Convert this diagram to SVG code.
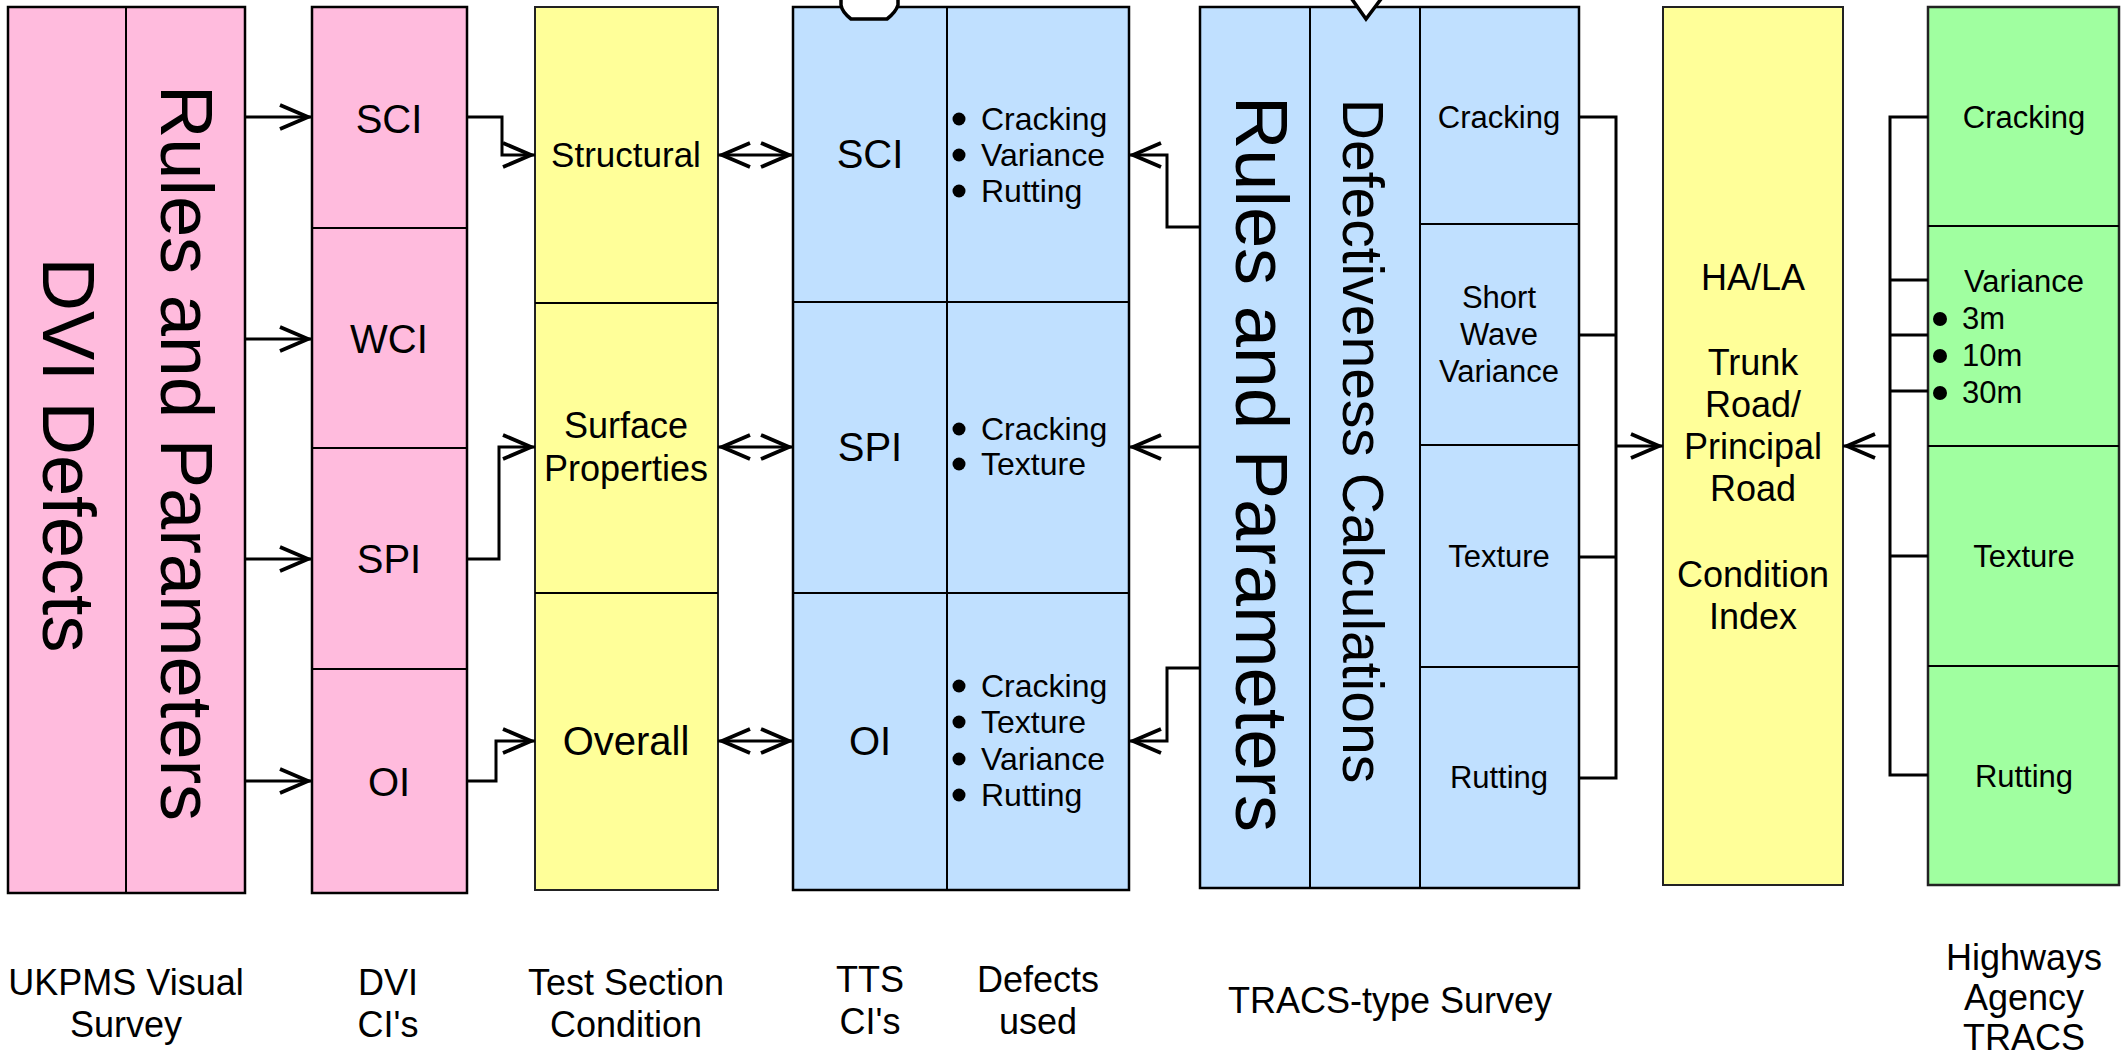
<svg xmlns="http://www.w3.org/2000/svg" width="2127" height="1057" viewBox="0 0 2127 1057">
<style>
text{font-family:"Liberation Sans",Arial,sans-serif;fill:#000}
.c{text-anchor:middle}
.pink{fill:#FFBBDD;stroke:#000;stroke-width:2.5}
.yel{fill:#FFFF99;stroke:#222;stroke-width:2}
.blue{fill:#C0E0FF;stroke:#000;stroke-width:2.5}
.green{fill:#A0FFA0;stroke:#222;stroke-width:2.5}
.div{stroke:#000;stroke-width:2;fill:none}
.conn path{fill:none;stroke:#000;stroke-width:3;stroke-linejoin:miter}
.arr{marker-end:url(#ah)}
.dbl{marker-start:url(#ah);marker-end:url(#ah)}
.f40{font-size:40px}
.f36{font-size:36px}
.f32{font-size:32px}
.f31{font-size:31px}
.big{font-size:74px}
</style>
<defs>
<marker id="ah" markerUnits="userSpaceOnUse" viewBox="-36 -15 38 30" refX="0" refY="0" markerWidth="38" markerHeight="30" orient="auto-start-reverse">
<path d="M-32,-12 L-4,0 L-32,12" fill="none" stroke="#000" stroke-width="3.8"/>
</marker>
</defs>
<rect width="2127" height="1057" fill="#fff"/>

<g id="ukpms">
<rect class="pink" x="8" y="7" width="237" height="886"/>
<line class="div" x1="126" y1="7" x2="126" y2="893"/>
<text class="c big" transform="translate(43,455) rotate(90)">DVI Defects</text>
<text class="c big" transform="translate(161,453) rotate(90)">Rules and Parameters</text>
</g>

<g id="dvi-ci">
<rect class="pink" x="312" y="7" width="155" height="886"/>
<path class="div" d="M312,228H467M312,448H467M312,669H467"/>
<text class="c f40" x="389" y="133">SCI</text>
<text class="c f40" x="389" y="353">WCI</text>
<text class="c f40" x="389" y="573">SPI</text>
<text class="c f40" x="389" y="796">OI</text>
</g>

<g id="test-section">
<rect class="yel" x="535" y="7" width="183" height="883"/>
<path class="div" d="M535,303H718M535,593H718"/>
<text class="c" style="font-size:35px" x="626" y="167">Structural</text>
<text class="c f36" x="626" y="438">Surface</text>
<text class="c f36" x="626" y="481">Properties</text>
<text class="c f40" x="626" y="755">Overall</text>
</g>

<g id="tts">
<rect class="blue" x="793" y="7" width="336" height="883"/>
<path class="div" d="M947,7V890M793,302H1129M793,593H1129"/>
<path d="M841,-10V5Q842,12 851,19H887Q896,12 898,5V-10Z" fill="#fff" stroke="#000" stroke-width="3.5" stroke-linejoin="round"/>
<text class="c f40" x="870" y="168">SCI</text>
<text class="c f40" x="870" y="461">SPI</text>
<text class="c f40" x="870" y="755">OI</text>
<g class="f32">
<circle cx="959" cy="119" r="6.5"/><text x="981" y="130">Cracking</text>
<circle cx="959" cy="155" r="6.5"/><text x="981" y="166">Variance</text>
<circle cx="959" cy="191" r="6.5"/><text x="981" y="202">Rutting</text>
<circle cx="959" cy="429" r="6.5"/><text x="981" y="440">Cracking</text>
<circle cx="959" cy="464" r="6.5"/><text x="981" y="475">Texture</text>
<circle cx="959" cy="686" r="6.5"/><text x="981" y="697">Cracking</text>
<circle cx="959" cy="722" r="6.5"/><text x="981" y="733">Texture</text>
<circle cx="959" cy="759" r="6.5"/><text x="981" y="770">Variance</text>
<circle cx="959" cy="795" r="6.5"/><text x="981" y="806">Rutting</text>
</g>
</g>

<g id="tracs">
<rect class="blue" x="1200" y="7" width="379" height="881"/>
<path class="div" d="M1310,7V888M1420,7V888M1420,224H1579M1420,445H1579M1420,667H1579"/>
<path d="M1349,-5L1366,19L1384,-5" fill="#fff" stroke="#000" stroke-width="3.5"/>
<text class="c big" transform="translate(1236,464) rotate(90)">Rules and Parameters</text>
<text class="c" style="font-size:57px" transform="translate(1343,441) rotate(90)">Defectiveness Calculations</text>
<text class="c f31" x="1499" y="128">Cracking</text>
<text class="c f31" x="1499" y="308">Short</text>
<text class="c f31" x="1499" y="345">Wave</text>
<text class="c f31" x="1499" y="382">Variance</text>
<text class="c f31" x="1499" y="567">Texture</text>
<text class="c f31" x="1499" y="788">Rutting</text>
</g>

<g id="ha-la">
<rect class="yel" x="1663" y="7" width="180" height="878"/>
<g class="c f36">
<text x="1753" y="290">HA/LA</text>
<text x="1753" y="375">Trunk</text>
<text x="1753" y="417">Road/</text>
<text x="1753" y="459">Principal</text>
<text x="1753" y="501">Road</text>
<text x="1753" y="587">Condition</text>
<text x="1753" y="629">Index</text>
</g>
</g>

<g id="ha-tracs">
<rect class="green" x="1928" y="7" width="191" height="878"/>
<path class="div" d="M1928,226H2119M1928,446H2119M1928,666H2119"/>
<text class="c f31" x="2024" y="128">Cracking</text>
<text class="c f31" x="2024" y="292">Variance</text>
<g class="f31">
<circle cx="1940" cy="319" r="7"/><text x="1962" y="329">3m</text>
<circle cx="1940" cy="356" r="7"/><text x="1962" y="366">10m</text>
<circle cx="1940" cy="393" r="7"/><text x="1962" y="403">30m</text>
</g>
<text class="c f31" x="2024" y="567">Texture</text>
<text class="c f31" x="2024" y="787">Rutting</text>
</g>

<g id="connectors" class="conn">
<path class="arr" d="M245,117H312"/>
<path class="arr" d="M245,339H312"/>
<path class="arr" d="M245,559H312"/>
<path class="arr" d="M245,781H312"/>
<path class="arr" d="M467,117H502V155H535"/>
<path class="arr" d="M467,559H499V447H535"/>
<path class="arr" d="M467,781H496V741H535"/>
<path class="dbl" d="M718,155H793"/>
<path class="dbl" d="M718,447H793"/>
<path class="dbl" d="M718,741H793"/>
<path class="arr" d="M1200,227H1167V155H1129"/>
<path class="arr" d="M1200,447H1129"/>
<path class="arr" d="M1200,668H1167V741H1129"/>
<path d="M1579,117H1616V778H1579M1579,335H1616M1579,557H1616"/>
<path class="arr" d="M1616,446H1663"/>
<path d="M1928,117H1890V775H1928M1928,280H1890M1928,335H1890M1928,391H1890M1928,556H1890"/>
<path class="arr" d="M1890,446H1843"/>
</g>

<g id="labels" class="c f36">
<text x="126" y="995">UKPMS Visual</text>
<text x="126" y="1037">Survey</text>
<text x="388" y="995">DVI</text>
<text x="388" y="1037">CI's</text>
<text x="626" y="995">Test Section</text>
<text x="626" y="1037">Condition</text>
<text x="870" y="992">TTS</text>
<text x="870" y="1034">CI's</text>
<text x="1038" y="992">Defects</text>
<text x="1038" y="1034">used</text>
<text x="1390" y="1013">TRACS-type Survey</text>
<text x="2024" y="970">Highways</text>
<text x="2024" y="1010">Agency</text>
<text x="2024" y="1050">TRACS</text>
</g>
</svg>
